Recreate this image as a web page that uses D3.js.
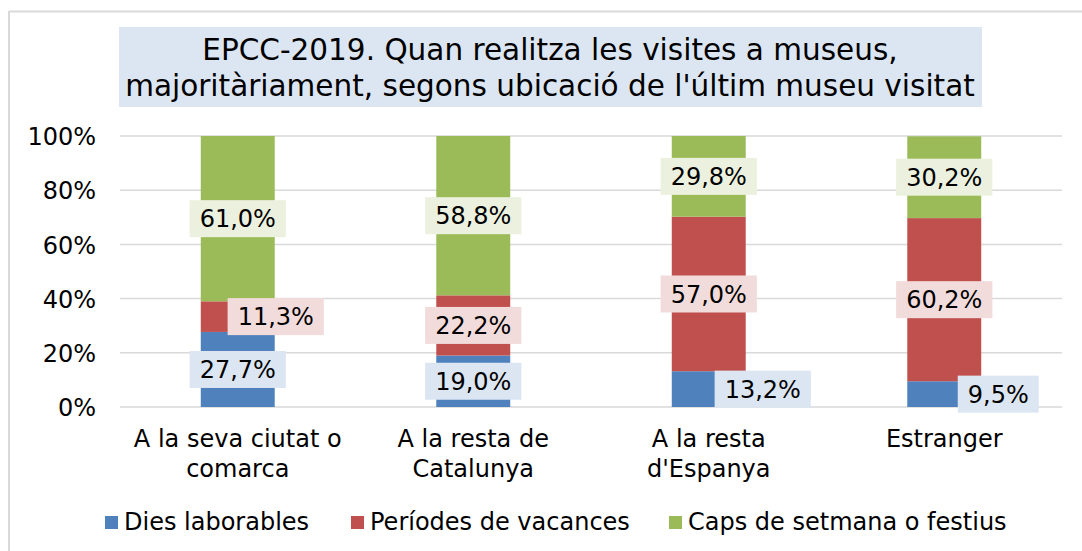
<!DOCTYPE html>
<html>
<head>
<meta charset="utf-8">
<script src="https://cdn.jsdelivr.net/npm/d3@7"></script>
<style>
  body { margin: 0; background: #fff; }
  text { font-family: "DejaVu Sans", Verdana, sans-serif; fill: #000; }
</style>
</head>
<body>
<script>
const categories = [["A la seva ciutat o", "comarca"], ["A la resta de", "Catalunya"], ["A la resta", "d'Espanya"], ["Estranger"]]
const seriesNames = ["Dies laborables", "Períodes de vacances", "Caps de setmana o festius"]
const dies = [27.7, 19.0, 13.2, 9.5]
const vacances = [11.3, 22.2, 57.0, 60.2]
const caps = [61.0, 58.8, 29.8, 30.2]
const yTicks = [0, 20, 40, 60, 80, 100]
const titleLines = ["EPCC-2019. Quan realitza les visites a museus,", "majoritàriament, segons ubicació de l'últim museu visitat"]

const colors = ["#4f81bd", "#c0504d", "#9bbb59"]
const labelFill = ["#dce6f2", "#f2dcdb", "#ebf1de"]
// horizontal shift of a few labels (Excel nudges them off the bar)
const labelShift = [[0, 38, 0], [0, 0, 0], [54, 0, 0], [54, 0, 0]]

const width = 1082, height = 551
const margin = { left: 120, right: 20, top: 136, bottom: 144 }

const svg = d3.select("body").append("svg")
    .attr("width", width)
    .attr("height", height)

// chart frame
svg.append("line").attr("x1", 9).attr("x2", width).attr("y1", 11.5).attr("y2", 11.5)
    .attr("stroke", "#d9d9d9").attr("stroke-width", 2)
svg.append("line").attr("x1", 9).attr("x2", 9).attr("y1", 11).attr("y2", height)
    .attr("stroke", "#d9d9d9").attr("stroke-width", 2)

// title
svg.append("rect").attr("x", 119).attr("y", 27).attr("width", 863).attr("height", 80)
    .attr("fill", "#dce6f2")
svg.append("g").selectAll("text").data(titleLines).join("text")
    .attr("x", 550)
    .attr("y", (d, i) => 60 + i * 36)
    .attr("text-anchor", "middle")
    .style("font-size", "29.5px")
    .text(d => d)

const x = d3.scaleBand()
    .domain(d3.range(categories.length))
    .range([margin.left, width - margin.right])
    .paddingInner(0.686)
    .paddingOuter(0.343)

const y = d3.scaleLinear()
    .domain([0, 100])
    .range([height - margin.bottom, margin.top])

// gridlines
svg.append("g").selectAll("line").data(yTicks).join("line")
    .attr("x1", margin.left).attr("x2", width - margin.right)
    .attr("y1", d => y(d)).attr("y2", d => y(d))
    .attr("stroke", "#d9d9d9").attr("stroke-width", 1.5)

const yAxis = svg.append("g")
    .attr("transform", `translate(${margin.left},0)`)
    .call(d3.axisLeft(y).tickValues(yTicks).tickFormat(d => d + "%").tickSize(0).tickPadding(24))
yAxis.select(".domain").remove()
yAxis.selectAll("text").style("font-size", "24px").attr("fill", "#000").attr("dy", "0.36em")

// stacked data
const rows = categories.map((c, i) => ({ i: i, dies: dies[i], vacances: vacances[i], caps: caps[i] }))
const stack = d3.stack().keys(["dies", "vacances", "caps"])(rows)

const layers = svg.append("g").selectAll("g").data(stack).join("g")
    .attr("fill", (d, k) => colors[k])

layers.selectAll("rect").data(d => d).join("rect")
    .attr("x", d => x(d.data.i))
    .attr("width", x.bandwidth())
    .attr("y", d => y(Math.min(d[1], 100)))
    .attr("height", d => y(d[0]) - y(Math.min(d[1], 100)))

// data labels
const labels = svg.append("g")
stack.forEach((layer, k) => {
    layer.forEach(d => {
        const val = d[1] - d[0]
        const cx = x(d.data.i) + x.bandwidth() / 2 + labelShift[d.data.i][k]
        const cy = y((d[0] + d[1]) / 2)
        const g = labels.append("g").attr("transform", `translate(${cx},${cy})`)
        const t = g.append("text")
            .attr("text-anchor", "middle")
            .attr("dy", "0.36em")
            .style("font-size", "24px")
            .text(d3.format(".1f")(val).replace(".", ",") + "%")
        const w = t.node().getComputedTextLength()
        g.insert("rect", "text")
            .attr("x", -w / 2 - 10).attr("y", -18.5)
            .attr("width", w + 20).attr("height", 37)
            .attr("fill", labelFill[k])
    })
})

// category labels
const xl = svg.append("g").selectAll("text").data(categories).join("text")
    .attr("x", (d, i) => x(i) + x.bandwidth() / 2)
    .attr("y", 447)
    .attr("text-anchor", "middle")
    .style("font-size", "24px")
xl.selectAll("tspan").data(d => d).join("tspan")
    .attr("x", function () { return d3.select(this.parentNode).attr("x") })
    .attr("dy", (d, i) => i === 0 ? 0 : 30)
    .text(d => d)

// legend
const legendX = [105, 351, 669]
const legend = svg.append("g").selectAll("g").data(seriesNames).join("g")
    .attr("transform", (d, i) => `translate(${legendX[i]},516)`)
legend.append("rect").attr("width", 13).attr("height", 13).attr("fill", (d, i) => colors[i])
legend.append("text").attr("x", 19).attr("y", 14).style("font-size", "24px").text(d => d)
</script>
</body>
</html>
